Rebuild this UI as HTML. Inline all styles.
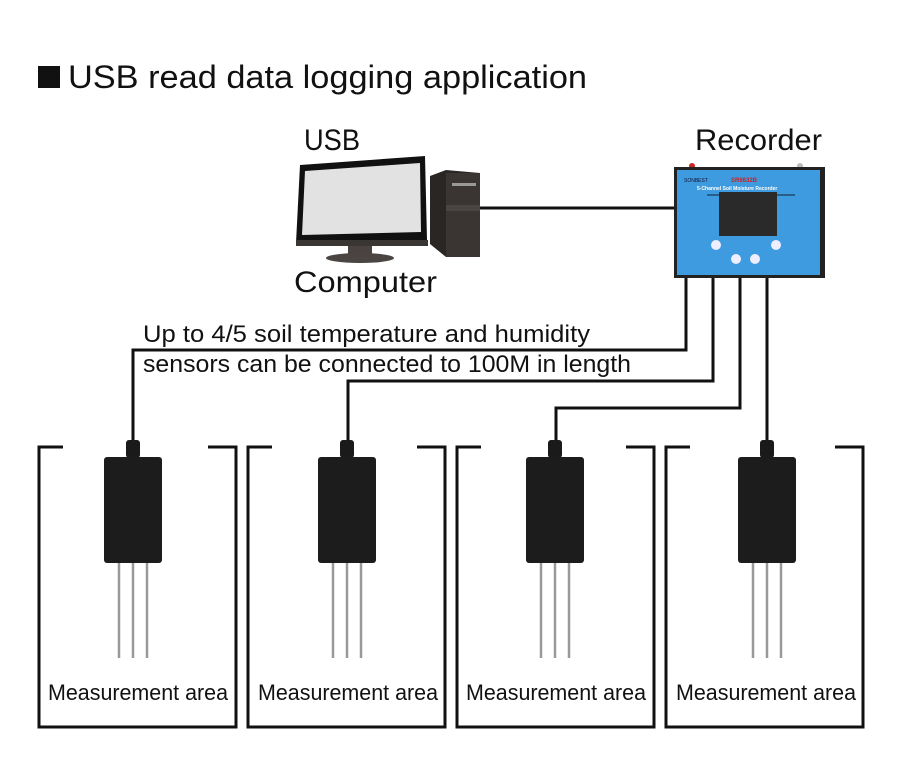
<!DOCTYPE html>
<html><head><meta charset="utf-8"><style>
html,body{margin:0;padding:0;background:#fff;width:900px;height:780px;overflow:hidden}
text{font-family:"Liberation Sans Narrow","Liberation Sans",sans-serif;fill:#111}
</style></head><body>
<svg width="900" height="780" viewBox="0 0 900 780" xmlns="http://www.w3.org/2000/svg">
<!-- title -->
<rect x="38" y="66" width="22" height="22" fill="#111"/>
<text x="68" y="88" font-size="32" textLength="519" lengthAdjust="spacingAndGlyphs">USB read data logging application</text>
<text x="304" y="150" font-size="30" textLength="56" lengthAdjust="spacingAndGlyphs">USB</text>
<text x="695" y="150" font-size="30" textLength="127" lengthAdjust="spacingAndGlyphs">Recorder</text>
<text x="294" y="292" font-size="30" textLength="143" lengthAdjust="spacingAndGlyphs">Computer</text>
<text x="143" y="342" font-size="24" textLength="447" lengthAdjust="spacingAndGlyphs">Up to 4/5 soil temperature and humidity</text>
<text x="143" y="372" font-size="24" textLength="488" lengthAdjust="spacingAndGlyphs">sensors can be connected to 100M in length</text>
<!-- computer -->
<polygon points="300,165 425,156 427,240 296,243" fill="#111"/>
<polygon points="305,171 420,163 421,232 302,235" fill="#e2e2e2"/>
<rect x="296" y="240" width="132" height="6" fill="#3a3634"/>
<rect x="348" y="246" width="24" height="10" fill="#4a4240"/>
<ellipse cx="360" cy="258" rx="34" ry="5" fill="#4a4442"/>
<polygon points="446,170 480,173 480,257 446,257 430,244 430,176" fill="#2a2624"/>
<rect x="446" y="173" width="34" height="84" fill="#3a3432"/>
<rect x="452" y="183" width="24" height="3" fill="#999"/>
<rect x="446" y="205" width="34" height="6" fill="#4a4442"/>
<!-- connection -->
<line x1="480" y1="208" x2="674" y2="208" stroke="#111" stroke-width="3"/>
<!-- recorder -->
<circle cx="692" cy="166" r="3" fill="#c22"/>
<circle cx="800" cy="166" r="3" fill="#bbb"/>
<rect x="674" y="167" width="151" height="111" fill="#222"/>
<rect x="677" y="170" width="143" height="105" fill="#3f9be0"/>
<text x="684" y="182" font-size="5" style="fill:#113">SONBEST</text>
<text x="731" y="182" font-size="6" style="fill:#c22;font-weight:bold">SR6632B</text>
<text x="697" y="190" font-size="5" style="fill:#fff;font-weight:bold">5-Channel Soil Moisture Recorder</text>
<line x1="707" y1="195" x2="795" y2="195" stroke="#123" stroke-width="1"/>
<rect x="719" y="192" width="58" height="44" fill="#2a2a2a"/>
<circle cx="716" cy="245" r="5" fill="#eef"/>
<circle cx="776" cy="245" r="5" fill="#eef"/>
<circle cx="736" cy="259" r="5" fill="#eef"/>
<circle cx="755" cy="259" r="5" fill="#eef"/>
<!-- wires -->
<g stroke="#111" stroke-width="3" fill="none">
<polyline points="686,278 686,350 133,350 133,445"/>
<polyline points="713,278 713,381 348,381 348,445"/>
<polyline points="740,278 740,408 556,408 556,445"/>
<polyline points="767,278 767,445"/>
</g>
<!-- boxes -->
<g stroke="#111" stroke-width="3" fill="none">
<polyline points="63,447 39,447 39,727 236,727 236,447 208,447"/>
<polyline points="272,447 248,447 248,727 445,727 445,447 417,447"/>
<polyline points="481,447 457,447 457,727 654,727 654,447 626,447"/>
<polyline points="690,447 666,447 666,727 863,727 863,447 835,447"/>
</g>
<!-- sensors -->
<g id="s">
<rect x="126" y="440" width="14" height="18" rx="3" fill="#1a1a1a"/>
<rect x="104" y="457" width="58" height="106" rx="3" fill="#1c1c1c"/>
<line x1="119" y1="563" x2="119" y2="658" stroke="#999" stroke-width="2.5"/>
<line x1="133" y1="563" x2="133" y2="658" stroke="#999" stroke-width="2.5"/>
<line x1="147" y1="563" x2="147" y2="658" stroke="#999" stroke-width="2.5"/>
</g>
<use href="#s" x="214"/>
<use href="#s" x="422"/>
<use href="#s" x="634"/>
<g font-size="22">
<text x="48" y="700" textLength="180" lengthAdjust="spacingAndGlyphs">Measurement area</text>
<text x="258" y="700" textLength="180" lengthAdjust="spacingAndGlyphs">Measurement area</text>
<text x="466" y="700" textLength="180" lengthAdjust="spacingAndGlyphs">Measurement area</text>
<text x="676" y="700" textLength="180" lengthAdjust="spacingAndGlyphs">Measurement area</text>
</g>
</svg>
</body></html>
